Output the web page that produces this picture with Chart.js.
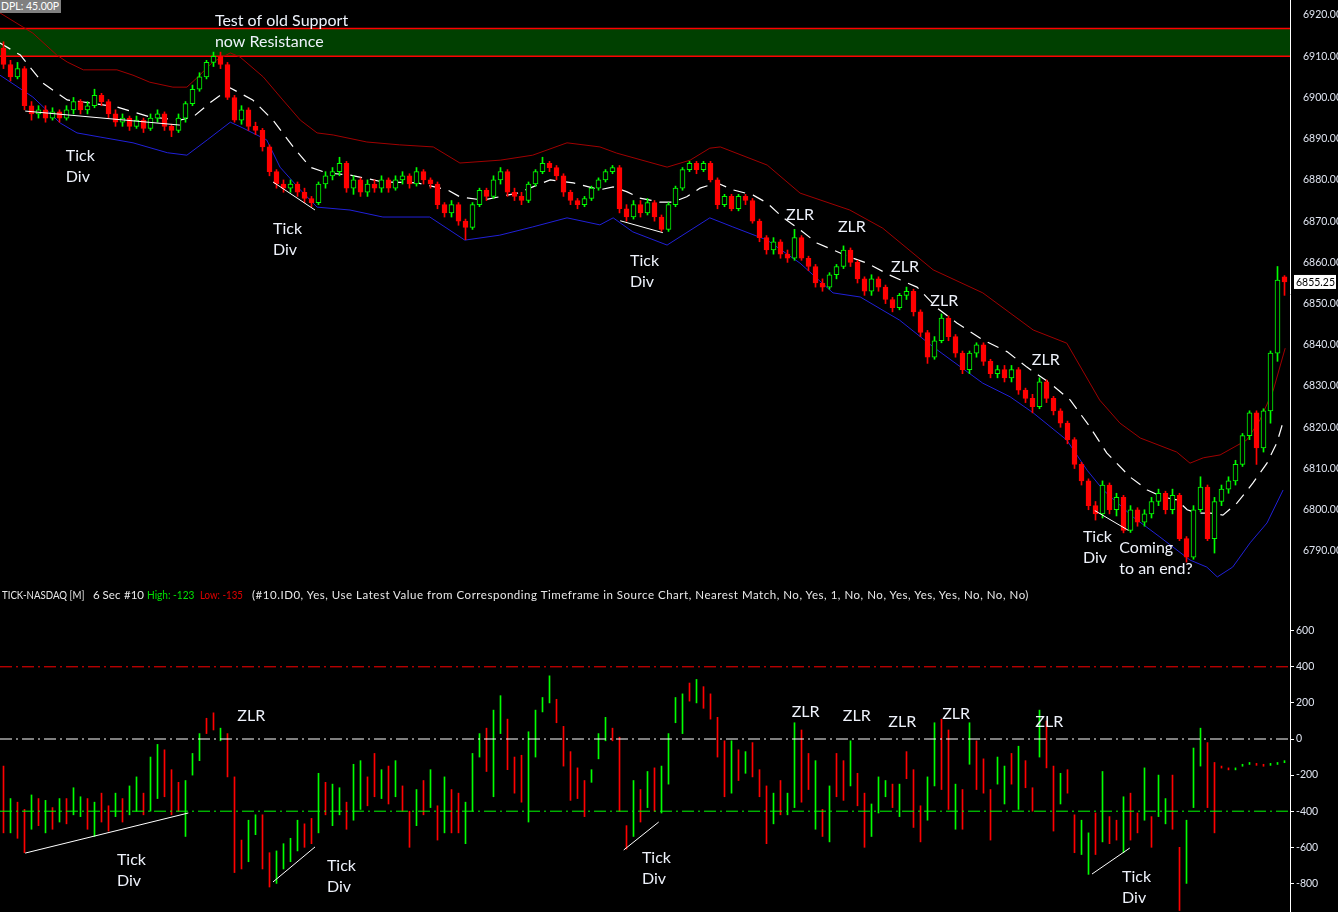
<!DOCTYPE html>
<html>
<head>
<meta charset="utf-8">
<script src="https://cdn.jsdelivr.net/npm/chart.js@4.4.0/dist/chart.umd.min.js"></script>
<style>
  html, body { margin: 0; padding: 0; background: #000; overflow: hidden; }
  #wrap { position: relative; width: 1338px; height: 912px; background: #000; }
  canvas { position: absolute; left: 0; }
  #priceChart { top: 0; }
  #tickChart { top: 588px; }
  .hdr { position: absolute; top: 588px; font: 11.5px Lato, sans-serif; line-height: 14px; color: #e8e8e8;
         white-space: pre; transform-origin: 0 50%; }
  #dpl { position: absolute; left: 0; top: 0; width: 61px; height: 13px; background: #808080; color: #fff;
         font: 10.5px Lato, sans-serif; line-height: 13px; padding-left: 1px; box-sizing: border-box;
         white-space: nowrap; overflow: hidden; }
</style>
</head>
<body>
<div id="wrap">
  <canvas id="priceChart" width="1338" height="588"></canvas>
  <canvas id="tickChart" width="1338" height="324"></canvas>
  <div id="dpl">DPL: 45.00P</div>
  <div class="hdr" style="left:2px;transform:scaleX(0.84)">TICK-NASDAQ [M]</div>
  <div class="hdr" style="left:93px">6 Sec</div>
  <div class="hdr" style="left:124px">#10</div>
  <div class="hdr" style="left:147px;color:#00e000;transform:scaleX(0.88)">High: -123</div>
  <div class="hdr" style="left:200px;color:#e00000;transform:scaleX(0.84)">Low: -135</div>
  <div class="hdr" style="left:252px;letter-spacing:0.52px">(#10.ID0, Yes, Use Latest Value from Corresponding Timeframe in Source Chart, Nearest Match, No, Yes, 1, No, No, Yes, Yes, Yes, No, No, No)</div>
</div>
<script>
// ---- price bars (6 sec) ----
const opens = [6912,6908,6905,6907,6898,6896,6897,6895,6896.5,6895,
  6897,6899,6897,6898,6900.5,6899,6896,6894,6895,6893,
  6894.5,6892.5,6895,6896,6893,6892,6895,6898.5,6902,6905,
  6908.5,6910,6908,6900,6894.5,6897,6893,6892,6888,6882,
  6879,6878,6879,6877,6875.5,6874.5,6879,6881,6882,6884,
  6878,6880,6877,6879,6878,6880,6878,6880,6881,6879,
  6882,6880,6879,6874,6872,6874,6870,6868.5,6874,6877.5,
  6876,6880,6882,6877,6876,6875,6879,6882,6884,6883,
  6881,6877,6875,6874,6875.5,6878,6880,6882,6883,6873,
  6871,6874,6872,6874.5,6871,6868,6874,6878,6882.5,6884,
  6882.5,6884,6880,6874,6876,6873,6876,6875,6870,6866,
  6863,6865,6862,6861,6866,6861,6859,6855,6854,6857,
  6859,6863,6860,6856,6853,6856,6854,6851,6849,6852,
  6853,6848,6843,6837,6841,6846.5,6842,6838,6834,6838,
  6840,6836,6833,6834,6832,6834,6829,6827,6825,6831,
  6827,6824,6821,6817,6811,6807,6801,6799,6806,6800,
  6803,6795,6800,6797,6799,6802,6804,6800,6803.5,6793,
  6788.5,6800,6805.5,6793,6802,6805,6807,6811,6818,6823.5,
  6815,6824,6838,6856.5];
const highs = [6913.5,6909,6908.5,6907.5,6899,6898,6898,6897.5,6897,6898,
  6900,6899.5,6899,6902,6901,6899.5,6897,6896,6895.5,6895.5,
  6895,6896,6897,6896.5,6893.5,6896,6899,6903,6906,6909,
  6911,6911,6908.5,6900.5,6898,6897.5,6894,6892.5,6888.5,6882.5,
  6880,6880,6879.5,6878,6876,6879.5,6882,6883,6885.5,6884.5,
  6881,6880.5,6880,6880,6881,6880.5,6881,6882,6881.5,6883,
  6882.5,6880.5,6879.5,6874.5,6875,6874.5,6870.5,6874.5,6878,6878,
  6881,6883,6882.5,6878,6877,6879.5,6882.5,6885.5,6884.5,6883.5,
  6881.5,6877.5,6875.5,6876,6878.5,6880.5,6882.5,6883.5,6883.5,6874,
  6875,6875,6875.5,6875,6871.5,6874.5,6878.5,6883,6884.5,6884.5,
  6884.5,6884.5,6880.5,6876.5,6876.5,6876.5,6876.5,6875.5,6870.5,6866.5,
  6866,6865.5,6863,6868,6866.5,6861.5,6859.5,6856,6857.5,6859.5,
  6864,6863.5,6860.5,6856.5,6857,6856.5,6854.5,6851.5,6852.5,6854,
  6853.5,6848.5,6843.5,6842,6847.5,6847,6842.5,6838.5,6838.5,6840.5,
  6840.5,6836.5,6835,6835,6835,6834.5,6829.5,6828,6832,6831.5,
  6827.5,6824.5,6821.5,6817.5,6811.5,6807.5,6802,6807,6806.5,6804,
  6803.5,6801,6800.5,6800,6803,6805,6804.5,6805,6804,6793.5,
  6801,6808,6806,6803,6806,6808,6812,6818.5,6824,6824,
  6824.5,6838.5,6859,6856.8];
const lows = [6907,6904,6904.5,6897,6894.5,6895,6894,6894.5,6894,6894.5,
  6896,6896,6896,6897.5,6898,6895,6893,6893,6892,6892.5,
  6891.5,6892,6894,6892,6890.5,6891.5,6894,6898,6901.5,6904.5,
  6907.5,6907,6899.5,6894,6893.5,6892,6891,6887,6881,6878,
  6877,6877,6876,6874.5,6873.5,6874,6878,6880,6881,6877,
  6876.5,6876,6876,6877,6877,6877,6877.5,6879,6878,6878.5,
  6879,6878,6873,6871,6871,6869,6865.5,6868,6873.5,6875,
  6875.5,6879,6876,6875,6874,6874.5,6878.5,6881.5,6882,6880,
  6876,6874,6873,6873.5,6875,6877.5,6879.5,6881.5,6872,6870,
  6870.5,6871,6871.5,6870,6867.5,6867.5,6873.5,6877.5,6882,6881.5,
  6882,6879.5,6873,6873.5,6872.5,6872.5,6874,6869.5,6865,6862,
  6862,6861,6860,6860.5,6860.5,6858,6854,6853,6853.5,6856,
  6858.5,6859,6855,6852,6852,6853,6850,6848,6848.5,6851,
  6847,6842,6835.5,6836.5,6840.5,6841,6837,6833,6833,6837,
  6835,6832,6832,6831,6831,6828,6826,6823.5,6824.5,6826,
  6823,6820,6816,6810,6806,6800,6797.5,6798,6799,6798.5,
  6794.4,6794.5,6796,6796,6798,6801,6799,6799,6792.5,6787.3,
  6788,6799.5,6792.5,6789.5,6801,6804,6806,6810.5,6817,6811,
  6814,6821,6836,6852];
const closes = [6908,6905,6907,6898,6896,6897,6895,6896.5,6895,6897,
  6899,6897,6898,6900.5,6899,6896,6894,6895,6893,6894.5,
  6892.5,6895,6896,6893,6892,6895,6898.5,6902,6905,6908.5,
  6910,6908,6900,6894.5,6897,6893,6892,6888,6882,6879,
  6878,6879,6877,6875.5,6874.5,6879,6881,6882,6884,6878,
  6880,6877,6879,6878,6880,6878,6880,6881,6879,6882,
  6880,6879,6874,6872,6874,6870,6868.5,6874,6877.5,6876,
  6880,6882,6877,6876,6875,6879,6882,6884,6883,6881,
  6877,6875,6874,6875.5,6878,6880,6882,6883,6873,6871,
  6874,6872,6874.5,6871,6868,6874,6878,6882.5,6884,6882.5,
  6884,6880,6874,6876,6873,6876,6875,6870,6866,6863,
  6865,6862,6861,6866,6861,6859,6855,6854,6857,6859,
  6863,6860,6856,6853,6856,6854,6851,6849,6852,6853,
  6848,6843,6837,6841,6846.5,6842,6838,6834,6838,6840,
  6836,6833,6834,6832,6834,6829,6827,6825,6831,6827,
  6824,6821,6817,6811,6807,6801,6799,6806,6800,6803,
  6795,6800,6797,6799,6802,6804,6800,6803.5,6793,6788.5,
  6800,6805.5,6793,6802,6805,6807,6811,6818,6823.5,6815,
  6824,6838,6855.7,6855.25];

// envelope and average, [bar, price]
const upperBand = [[-0.5,6920.5],[4.2,6915.6],[7.6,6910.3],[9.1,6908.6],[11.4,6906.7],[16.2,6906.7],
  [18.5,6905.4],[20.9,6903.7],[24.2,6902.5],[26.2,6902.5],[27.6,6904.7],[29.9,6908.6],[32.4,6910.8],
  [33.8,6909.8],[37.1,6905],[39.9,6899.4],[42.4,6894.5],[44.8,6891.4],[47.1,6890.9],[51.9,6889.2],
  [56.6,6888.5],[61.4,6888],[65.2,6884.1],[71,6884.8],[75.6,6886],[80.5,6889],[85.2,6888],
  [87.6,6886.5],[94.8,6883.1],[98.1,6884.8],[100.9,6887.7],[102.4,6888],[109.1,6883.6],[113.8,6876.8],
  [120.9,6872.7],[125.6,6868.3],[132.8,6858.2],[139.9,6852.6],[147.1,6843.6],[151.9,6840.4],
  [156.6,6826.6],[159.5,6821],[162.4,6817.4],[167.6,6814],[169.5,6811.3],[171.4,6812.6],
  [173.8,6813.3],[177.6,6816.9],[179.5,6821.8],[181.4,6829],[183.1,6839.2]];
const lowerBand = [[-0.5,6905.4],[4.2,6900.1],[8.1,6893.8],[10.5,6891.4],[13.8,6890.4],[18.5,6889],
  [23.4,6886.6],[26.2,6886],[29.1,6889.7],[32.4,6894],[34.2,6892.6],[37.6,6889.7],[39.5,6883.1],
  [42.4,6877.6],[44.8,6873.4],[49.5,6872.7],[54.2,6871],[60.9,6871],[65.9,6865.4],[70.9,6866.6],
  [75.6,6868.6],[80.5,6870.8],[85.2,6869.1],[87.1,6870.8],[89.9,6867.4],[94.8,6864.2],[100.9,6870.8],
  [104.2,6868.6],[109.1,6865.4],[113.8,6859.8],[118.5,6852.6],[122.4,6851.6],[128,6846],
  [132.8,6839.5],[139.9,6830.7],[143.8,6827.4],[147.1,6823.5],[151.9,6816.9],[154.8,6809.6],
  [157.1,6804.8],[161.4,6798.2],[165.2,6793.4],[169.5,6787.8],[171.9,6786.1],[173.4,6783.7],
  [175.6,6786.1],[178.1,6792],[180.5,6796.8],[182.8,6804.8]];
const avgLine = [[-0.5,6913.2],[2.4,6910.3],[5.6,6903.5],[9.1,6899.4],[11.4,6898.9],[16.2,6897.7],
  [18.5,6896.5],[20.9,6895.3],[25.2,6894.5],[27.1,6895.3],[29.5,6898.7],[32.4,6902.3],[35.6,6899.4],
  [38.5,6894.5],[41.4,6888],[43.8,6883.1],[46.2,6881.7],[49.5,6881.2],[54.2,6879.5],[59.1,6879.3],
  [63.4,6877.6],[65.2,6875.9],[68.5,6875.1],[73.4,6876.8],[78.1,6880],[81.4,6879.3],[85.2,6877.6],
  [87.1,6878.3],[89.1,6877.1],[90.9,6875.6],[93.8,6874.6],[95.6,6874.6],[97.6,6875.9],[99.5,6878],
  [101.9,6879.3],[104.2,6877.6],[107.1,6876.3],[109.1,6874.4],[111.4,6870.8],[113.8,6867.9],
  [116.2,6864.7],[120.9,6861.3],[123.4,6859.8],[126.6,6856.9],[130.5,6854],[133.4,6848.9],
  [136.2,6845.3],[139.9,6841.2],[143.4,6838.3],[146.2,6834.6],[149.5,6830.7],[152.4,6826.6],
  [155.2,6820.1],[157.6,6813.8],[160.9,6808],[163.4,6804.8],[165.6,6803.1],[167.6,6802.4],
  [169.1,6800],[170.5,6799.2],[172.4,6799.2],[174.2,6798.7],[176.2,6801.6],[178.5,6806.5],
  [180.5,6811.3],[181.9,6816.2],[182.8,6821.3]];

const priceTicks = [6920,6910,6900,6890,6880,6870,6860,6850,6840,6830,6820,6810,6800,6790];
const resistanceZone = [6910, 6916.75];

// ---- TICK-NASDAQ bars ----
const tickHigh = [-150,-330,-350,-390,-310,-330,-340,-380,-330,-330,
  -270,-320,-330,-350,-300,-370,-300,-330,-260,-210,
  -300,-100,-30,-60,-170,-240,-230,-80,30,115,
  145,60,30,-210,-560,-450,-420,-420,-630,-620,
  -580,-550,-450,-470,-440,-190,-240,-250,-270,-350,
  -140,-120,-210,-80,-170,-150,-120,-260,-400,-280,
  -230,-170,-370,-210,-280,-300,-350,-80,30,60,
  160,240,110,-100,-90,40,160,230,350,220,
  70,-70,-160,-230,-170,30,120,60,10,-480,
  -230,-280,-180,-160,-150,30,230,250,310,330,
  290,250,120,-10,-10,-60,-70,-20,-170,-260,
  -300,-230,-300,90,50,-80,-120,-390,-260,-80,
  -120,-10,-190,-300,-360,-210,-230,-250,-250,-70,
  -170,-370,-210,90,110,50,-250,-280,90,-10,
  -110,-280,-100,-150,-80,-40,-120,-270,160,100,
  -150,-190,-170,-420,-450,-520,-410,-180,-430,-450,
  -320,-300,-410,-160,-430,-200,-330,-200,-600,-450,
  -50,60,-20,-130,-150,-160,-160,-140,-130,-135,
  -140,-135,-130,-120];
const tickLow = [-520,-520,-550,-630,-500,-480,-520,-500,-460,-470,
  -420,-430,-500,-540,-460,-510,-430,-460,-420,-400,
  -420,-400,-330,-320,-420,-400,-540,-200,-120,30,
  50,-10,-210,-740,-720,-680,-530,-720,-820,-800,
  -720,-680,-620,-600,-580,-520,-420,-480,-420,-500,
  -450,-390,-370,-320,-330,-360,-320,-400,-600,-480,
  -420,-380,-560,-520,-520,-520,-580,-400,-100,-180,
  -320,30,-170,-300,-350,-460,-100,150,200,90,
  -150,-340,-330,-430,-240,-110,-10,-10,-400,-610,
  -540,-460,-380,-400,-410,-250,90,30,210,200,
  170,110,-100,-320,-300,-230,-190,-210,-320,-580,
  -470,-420,-420,-380,-350,-280,-500,-540,-570,-320,
  -340,-260,-370,-600,-540,-410,-320,-380,-430,-220,
  -490,-570,-450,-260,-280,-390,-500,-500,-140,-280,
  -300,-560,-250,-360,-250,-390,-270,-400,-100,-160,
  -510,-360,-300,-630,-640,-750,-640,-570,-580,-560,
  -630,-560,-520,-450,-600,-430,-470,-500,-950,-800,
  -380,-150,-380,-520,-160,-170,-170,-150,-140,-145,
  -150,-145,-140,-130];
const tickUp = [0,1,0,0,1,0,1,0,1,0, 1,1,0,1,0,0,1,0,1,1, 0,1,1,0,0,0,1,1,1,0,
  0,1,0,0,0,1,1,0,0,1, 1,1,1,0,0,1,0,1,1,0, 1,1,0,0,1,0,1,0,0,1,
  0,1,0,1,0,0,1,1,1,0, 1,1,0,0,0,1,1,1,1,0, 0,0,0,0,1,1,1,0,0,0,
  1,0,1,0,1,1,1,1,0,1, 0,0,0,0,1,0,1,0,0,0, 1,0,1,1,0,0,1,0,1,0,
  0,1,0,0,1,1,1,0,1,0, 0,0,1,1,0,0,1,0,1,0, 0,0,1,1,0,1,0,0,1,0,
  0,1,0,0,1,1,0,1,0,0, 1,0,0,1,0,1,1,0,0,1, 1,1,0,0,0,0,1,1,1,0,
  0,1,1,1];
const tickAxis = [600,400,200,0,-200,-400,-600,-800];
const tickLevels = [400, 0, -400];

// ---- hand-drawn marks ----
const priceDivLines = [[[3.1,6896.7],[25.2,6893.3]], [[38.5,6879.5],[44.5,6872.7]],
  [[88.1,6870.1],[94.2,6867.2]], [[155.9,6799.8],[160.7,6795]]];
const tickDivLines = [[[3.1,-632],[26.4,-410]], [[38.5,-792],[44.5,-598]],
  [[88.6,-615],[93.6,-460]], [[155.5,-748],[160.9,-604]]];

const priceNotes = [
  {t:'Test of old Support', x:30.2, y:6918.5}, {t:'now Resistance', x:30.2, y:6913.45},
  {t:'Tick', x:8.9, y:6885.8}, {t:'Div', x:8.9, y:6880.7},
  {t:'Tick', x:38.5, y:6868.1}, {t:'Div', x:38.5, y:6863},
  {t:'Tick', x:89.5, y:6860.3}, {t:'Div', x:89.5, y:6855.2},
  {t:'ZLR', x:111.8, y:6871.5}, {t:'ZLR', x:119.2, y:6868.6}, {t:'ZLR', x:126.8, y:6858.9},
  {t:'ZLR', x:132.4, y:6850.6}, {t:'ZLR', x:146.9, y:6836.3},
  {t:'Tick', x:154.2, y:6793.4}, {t:'Div', x:154.2, y:6788.3},
  {t:'Coming', x:159.4, y:6790.7}, {t:'to an end?', x:159.4, y:6785.6}
];
const tickNotes = [
  {t:'ZLR', x:33.4, y:127},
  {t:'Tick', x:16.2, y:-670}, {t:'Div', x:16.2, y:-787},
  {t:'Tick', x:46.2, y:-704}, {t:'Div', x:46.2, y:-820},
  {t:'Tick', x:91.2, y:-659}, {t:'Div', x:91.2, y:-776},
  {t:'ZLR', x:112.6, y:150}, {t:'ZLR', x:119.9, y:127}, {t:'ZLR', x:126.4, y:94},
  {t:'ZLR', x:134.1, y:139}, {t:'ZLR', x:147.4, y:94},
  {t:'Tick', x:159.8, y:-765}, {t:'Div', x:159.8, y:-881}
];

const GREEN = '#00ff00';
const RED = '#ff0000';
const X_MIN = -0.5;
const X_MAX = X_MIN + 1290 / 7;

const bars = closes.map((_, i) => i);
const up = bars.map(i => closes[i] >= opens[i]);
const pts = arr => arr.map(p => ({x: p[0], y: p[1]}));

function makeNotes(items) {
  return {
    id: 'notes',
    afterDatasetsDraw(chart) {
      const {ctx, scales: {x, y}} = chart;
      ctx.save();
      ctx.font = '16px Lato';
      ctx.fillStyle = '#eef2fb';
      ctx.textBaseline = 'middle';
      items.forEach(n => ctx.fillText(n.t, x.getPixelForValue(n.x), y.getPixelForValue(n.y)));
      ctx.restore();
    }
  };
}

const zonePlugin = {
  id: 'zone',
  beforeDatasetsDraw(chart) {
    const {ctx, chartArea, scales: {y}} = chart;
    const y0 = y.getPixelForValue(resistanceZone[1]);
    const y1 = y.getPixelForValue(resistanceZone[0]);
    ctx.save();
    ctx.fillStyle = '#004000';
    ctx.fillRect(chartArea.left, y0, chartArea.right - chartArea.left, y1 - y0);
    ctx.strokeStyle = RED;
    ctx.lineWidth = 1.5;
    ctx.beginPath();
    ctx.moveTo(chartArea.left, y0); ctx.lineTo(chartArea.right, y0);
    ctx.moveTo(chartArea.left, y1); ctx.lineTo(chartArea.right, y1);
    ctx.stroke();
    ctx.restore();
  }
};

const lastPricePlugin = {
  id: 'lastPrice',
  afterDraw(chart) {
    const {ctx, scales: {y}} = chart;
    const v = closes[closes.length - 1];
    const py = y.getPixelForValue(v);
    ctx.save();
    ctx.fillStyle = '#fff';
    ctx.fillRect(y.left + 4, py - 7, 42, 14);
    ctx.fillStyle = '#000';
    ctx.font = '10.5px Lato';
    ctx.textBaseline = 'middle';
    ctx.fillText(v.toFixed(2), y.left + 6, py + 0.5);
    ctx.restore();
  }
};

function lineSet(data, color, extra) {
  return Object.assign({type: 'line', data: pts(data), borderColor: color, borderWidth: 1,
    pointRadius: 0, tension: 0, fill: false}, extra || {});
}

// Price chart
new Chart(document.getElementById('priceChart'), {
  type: 'bar',
  data: {
    datasets: [
      lineSet(upperBand, '#a00000', {order: 5}),
      lineSet(lowerBand, '#2020d8', {order: 5}),
      lineSet(avgLine, '#ffffff', {order: 5, borderDash: [12, 8], borderWidth: 1.2}),
      {
        data: bars.map(i => ({x: i, y: [lows[i], highs[i]]})),
        backgroundColor: bars.map(i => up[i] ? GREEN : RED),
        barThickness: 1, grouped: false, borderWidth: 0, order: 3
      },
      {
        data: bars.map(i => ({x: i, y: [opens[i], closes[i]]})),
        backgroundColor: bars.map(i => up[i] ? '#000' : RED),
        borderColor: bars.map(i => up[i] ? GREEN : RED),
        borderWidth: 1, borderSkipped: false, minBarLength: 2,
        barThickness: 5, grouped: false, order: 2
      },
      ...priceDivLines.map(l => lineSet(l, '#ffffff', {order: 1}))
    ]
  },
  options: {
    responsive: false, animation: false, devicePixelRatio: 1,
    layout: {padding: 0},
    plugins: {legend: {display: false}, tooltip: {enabled: false}},
    scales: {
      x: {type: 'linear', min: X_MIN, max: X_MAX, offset: false, display: false},
      y: {
        position: 'right', min: 6920 - 573 / 4.123, max: 6920 + 15 / 4.123, beginAtZero: false,
        afterBuildTicks: s => { s.ticks = priceTicks.map(v => ({value: v})); },
        afterFit: s => { s.width = 48; s.paddingTop = 0; s.paddingBottom = 0; },
        grid: {display: false},
        border: {display: true, color: '#ffffff', width: 1},
        ticks: {color: '#dfe4f0', font: {family: 'Lato', size: 10.5}, padding: 5,
                callback: v => Number(v).toFixed(2)}
      }
    }
  },
  plugins: [zonePlugin, makeNotes(priceNotes), lastPricePlugin]
});

// TICK chart
const levelStyles = [
  {color: RED, dash: [12, 4, 2, 4]},
  {color: '#ffffff', dash: [12, 4, 2, 4]},
  {color: GREEN, dash: [12, 4, 2, 4]}
];
new Chart(document.getElementById('tickChart'), {
  type: 'bar',
  data: {
    datasets: [
      {
        data: bars.map(i => ({x: i, y: [tickLow[i], tickHigh[i]]})),
        backgroundColor: bars.map(i => tickUp[i] ? GREEN : RED),
        barThickness: 1, grouped: false, borderWidth: 0, minBarLength: 2, order: 2
      },
      ...tickLevels.map((v, k) => lineSet([[X_MIN, v], [X_MAX, v]], levelStyles[k].color,
        {order: 1, borderDash: levelStyles[k].dash})),
      ...tickDivLines.map(l => lineSet(l, '#ffffff', {order: 0}))
    ]
  },
  options: {
    responsive: false, animation: false, devicePixelRatio: 1,
    layout: {padding: 0},
    plugins: {legend: {display: false}, tooltip: {enabled: false}},
    scales: {
      x: {type: 'linear', min: X_MIN, max: X_MAX, offset: false, display: false},
      y: {
        position: 'right', min: -173 * 5.54, max: 151 * 5.54, beginAtZero: false,
        afterBuildTicks: s => { s.ticks = tickAxis.map(v => ({value: v})); },
        afterFit: s => { s.width = 48; s.paddingTop = 0; s.paddingBottom = 0; },
        grid: {display: true, drawOnChartArea: false, drawTicks: true, tickLength: 4, color: '#ffffff'},
        border: {display: true, color: '#ffffff', width: 1},
        ticks: {color: '#dfe4f0', font: {family: 'Lato', size: 10.5}, padding: 2,
                callback: v => String(v)}
      }
    }
  },
  plugins: [makeNotes(tickNotes)]
});
</script>
</body>
</html>
